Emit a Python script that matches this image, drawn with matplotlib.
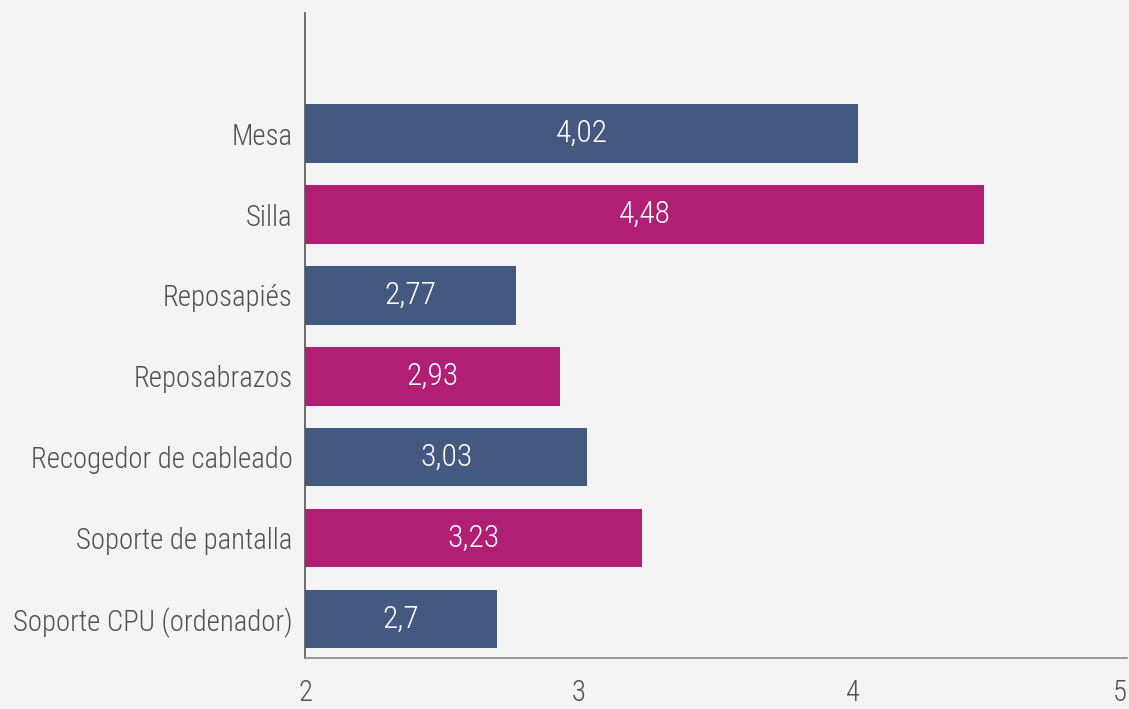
import matplotlib.pyplot as plt
from matplotlib import font_manager
from matplotlib.font_manager import FontProperties

categories = ['Mesa', 'Silla', 'Reposapiés', 'Reposabrazos', 'Recogedor de cableado',
              'Soporte de pantalla', 'Soporte CPU (ordenador)']
values = [4.02, 4.48, 2.77, 2.93, 3.03, 3.23, 2.7]
value_labels = ['4,02', '4,48', '2,77', '2,93', '3,03', '3,23', '2,7']
xticks = [2, 3, 4, 5]

# look for a condensed / narrow face, the reference uses a condensed sans
paths = [f.fname for f in font_manager.fontManager.ttflist]

def find_font(prefs):
    for p in prefs:
        hits = [f for f in paths if p in f]
        if hits:
            return hits[0]
    hits = [f for f in paths if ('Condensed' in f or 'Narrow' in f)
            and 'Bold' not in f and 'Italic' not in f and 'Oblique' not in f]
    return hits[0] if hits else None

font_light = find_font(['RobotoCondensed-Light', 'RobotoCondensed-Regular',
                        'LiberationSansNarrow-Regular', 'DejaVuSansCondensed.ttf'])

def fp(size):
    if font_light:
        return FontProperties(fname=font_light, size=size)
    return FontProperties(family='DejaVu Sans', size=size)

blue = '#44597f'
pink = '#b01f73'
text_gray = '#505050'
bg = '#f4f4f4'
colors = [blue if i % 2 == 0 else pink for i in range(len(categories))]

fig = plt.figure(figsize=(11.29, 7.09), dpi=100, facecolor=bg)
ax = fig.add_axes([0.2702, 0.0719, 0.7278, 0.9098])
ax.set_facecolor(bg)

# size the font so the longest label is about as wide as in the reference (~279 px)
renderer = fig.canvas.get_renderer()
probe = fig.text(0, 0, categories[-1], fontproperties=fp(20))
w = probe.get_window_extent(renderer).width
probe.remove()
size = min(20 * 279 / w, 24)

n = len(categories)
ypos = [n - 1 - i for i in range(n)]
base = 2
widths = [v - base for v in values]
ax.barh(ypos, widths, left=base, height=0.72, color=colors)

for y, v, lab in zip(ypos, values, value_labels):
    ax.text((base + v) / 2, y, lab, ha='center', va='center', color='white',
            fontproperties=fp(size * 1.1))

ax.set_xlim(2, 5)
ax.set_ylim(-0.48, n - 1 + 1.49)
ax.set_yticks(ypos)
ax.set_yticklabels(categories, color=text_gray, fontproperties=fp(size))
ax.set_xticks(xticks)
ax.set_xticklabels([str(t) for t in xticks], color=text_gray, fontproperties=fp(size))
ax.get_xticklabels()[-1].set_ha('right')
ax.tick_params(axis='both', length=0)
ax.tick_params(axis='y', pad=9)
ax.tick_params(axis='x', pad=15)

for s in ['top', 'right']:
    ax.spines[s].set_visible(False)
ax.spines['left'].set_color('#555555')
ax.spines['bottom'].set_color('#888888')
ax.spines['left'].set_linewidth(1.2)
ax.spines['bottom'].set_linewidth(1.2)

fig.savefig('out.png', dpi=100, facecolor=bg)
